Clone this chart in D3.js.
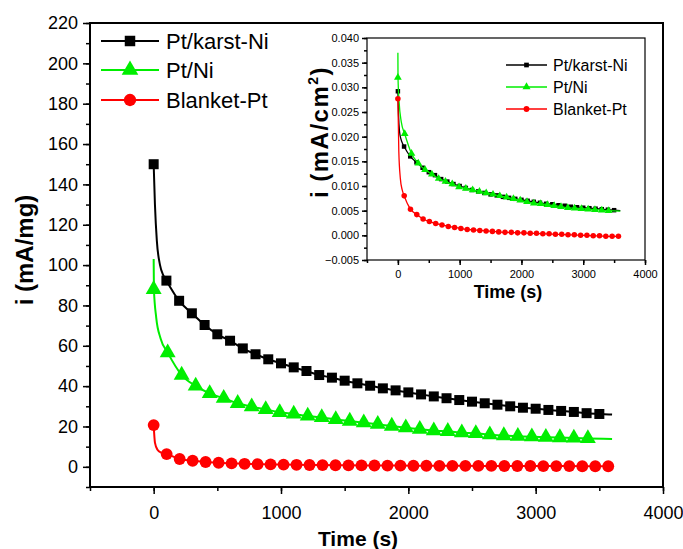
<!DOCTYPE html>
<html>
<head>
<meta charset="utf-8">
<script src="https://cdn.jsdelivr.net/npm/d3@7"></script>
<style>
body { margin: 0; background: #fff; }
svg { font-family: "Liberation Sans", Arial, sans-serif; }
.axis path { display: none; }
.axis line { stroke: #000; stroke-width: 1.5; }
</style>
</head>
<body>
<div id="chart-area"></div>
<script>
// sample times (s)
var blackTimes = [0,100,200,300,400,500,600,700,800,900,1000,1100,1200,1300,1400,1500,1600,1700,1800,1900,2000,2100,2200,2300,2400,2500,2600,2700,2800,2900,3000,3100,3200,3300,3400,3500];
var greenTimes = [0,110,220,330,440,550,660,770,880,990,1100,1210,1320,1430,1540,1650,1760,1870,1980,2090,2200,2310,2420,2530,2640,2750,2860,2970,3080,3190,3300,3410];
var redTimes = [0,102,204,306,408,510,612,714,816,918,1020,1122,1224,1326,1428,1530,1632,1734,1836,1938,2040,2142,2244,2346,2448,2550,2652,2754,2856,2958,3060,3162,3264,3366,3468,3570];

// main plot, i (mA/mg)
var blackMain = [150,92.3,82.3,76.1,70.3,65.7,62.5,58.7,55.8,53.3,51.3,49.3,47.5,45.5,44.2,42.7,41.4,40.2,38.9,37.9,36.9,35.9,34.9,34.0,33.1,32.3,31.5,30.8,30.0,29.3,28.8,28.2,27.7,27.2,26.6,26.2];
var greenMain = [88,56.6,45.5,40.1,36.4,34.0,31.5,29.8,28.5,27.0,26.2,25.2,24.5,23.5,22.7,21.9,21.1,20.2,19.4,18.7,17.9,17.6,16.9,16.6,15.9,15.5,15.2,14.9,14.7,14.5,14.3,14.1];
var redMain = [20.7,6.3,3.9,3.0,2.4,2.0,1.7,1.5,1.3,1.2,1.1,1.0,0.9,0.85,0.8,0.75,0.7,0.65,0.6,0.6,0.55,0.55,0.5,0.5,0.5,0.45,0.45,0.4,0.4,0.4,0.35,0.35,0.35,0.3,0.3,0.3];
// extra line readings near t=0 and at the end of the run
var blackMainHead = [[0,150],[10,130],[25,112],[50,100],[75,95]];
var greenMainHead = [[0,103],[2,88],[20,74],[55,63.5]];
var redMainHead = [[0,20.7],[10,12],[30,8.5],[60,7]];
var mainEnd = [[3600,25.9],[3600,13.8],[3600,0.3]];

// inset, i (mA/cm2)
var blackInset = [0.0292,0.0180,0.0160,0.0148,0.0137,0.0128,0.0122,0.0114,0.0109,0.0104,0.0100,0.0096,0.0092,0.0089,0.0086,0.0083,0.0081,0.0078,0.0076,0.0074,0.0072,0.0070,0.0068,0.0066,0.0064,0.0063,0.0061,0.0060,0.0058,0.0057,0.0056,0.0055,0.0054,0.0053,0.0052,0.0051];
var greenInset = [0.0320,0.0206,0.0166,0.0146,0.0133,0.0124,0.0115,0.0109,0.0104,0.0098,0.0095,0.0092,0.0089,0.0086,0.0083,0.0080,0.0077,0.0074,0.0071,0.0068,0.0065,0.0064,0.0062,0.0060,0.0058,0.0056,0.0055,0.0054,0.0053,0.0052,0.0051,0.0050];
var redInset = [0.0277,0.0080,0.0053,0.0042,0.0033,0.0028,0.0024,0.0021,0.0018,0.0016,0.0014,0.0012,0.0011,0.0010,0.0009,0.0008,0.0007,0.0006,0.0006,0.0005,0.0005,0.0004,0.0004,0.0003,0.0003,0.0002,0.0002,0.0001,0.0001,0.0000,0.0000,-0.0001,-0.0001,-0.0002,-0.0002,-0.0002];
var blackInsetHead = [[0,0.0292],[10,0.0245],[25,0.0212],[50,0.0195],[75,0.0186]];
var greenInsetHead = [[0,0.037],[2,0.032],[20,0.027],[55,0.023]];
var redInsetHead = [[0,0.0277],[15,0.017],[40,0.0115],[70,0.0092]];
var insetEnd = [[3600,0.0050],[3600,0.0049],[3600,-0.0002]];

var seriesNames = ["Pt/karst-Ni", "Pt/Ni", "Blanket-Pt"];
var colors = ["#000000", "#00ee00", "#ff0000"];
var shapes = [d3.symbolSquare, d3.symbolTriangle, d3.symbolCircle];

var mainYTicks = [0,20,40,60,80,100,120,140,160,180,200,220];
var insetYTicks = [-0.005,0,0.005,0.010,0.015,0.020,0.025,0.030,0.035,0.040];
var xTicks = [0,1000,2000,3000,4000];

var svg = d3.select("#chart-area")
    .append("svg")
        .attr("width", 683)
        .attr("height", 549);

function pts(times, vals) {
    return times.map(function(t, i) { return [t, vals[i]]; });
}

function drawPanel(opt) {
    var x = d3.scaleLinear().domain([-500, 4000]).range([opt.left, opt.right]);
    var y = d3.scaleLinear().domain(opt.yDomain).range([opt.bottom, opt.top]);

    // minor ticks
    svg.append("g").attr("class", "axis")
        .attr("transform", "translate(0," + opt.bottom + ")")
        .call(d3.axisBottom(x).tickValues(d3.range(-500, 4001, 500)).tickSize(opt.minor).tickFormat(""));
    svg.append("g").attr("class", "axis")
        .attr("transform", "translate(" + opt.left + ",0)")
        .call(d3.axisLeft(y).tickValues(opt.yMinor).tickSize(opt.minor).tickFormat(""));

    var bx = svg.append("g").attr("class", "axis")
        .attr("transform", "translate(0," + opt.bottom + ")")
        .call(d3.axisBottom(x).tickValues(xTicks).tickSize(opt.major).tickPadding(opt.xPad).tickFormat(d3.format("d")));
    bx.selectAll("text").attr("font-size", opt.tickFont).attr("fill", "#000")
        .style("font-family", "Liberation Sans, Arial, sans-serif");

    var ly = svg.append("g").attr("class", "axis")
        .attr("transform", "translate(" + opt.left + ",0)")
        .call(d3.axisLeft(y).tickValues(opt.yTicks).tickSize(opt.major).tickPadding(opt.yPad).tickFormat(opt.yFormat));
    ly.selectAll("text").attr("font-size", opt.tickFont).attr("fill", "#000")
        .style("font-family", "Liberation Sans, Arial, sans-serif");

    svg.append("rect")
        .attr("x", opt.left).attr("y", opt.top)
        .attr("width", opt.right - opt.left).attr("height", opt.bottom - opt.top)
        .attr("fill", "none").attr("stroke", "#000").attr("stroke-width", opt.frame);

    var line = d3.line()
        .x(function(d) { return x(d[0]); })
        .y(function(d) { return y(d[1]); })
        .curve(d3.curveMonotoneX);

    opt.series.forEach(function(s, k) {
        var markers = pts(s.times, s.vals);
        var lineData = s.head.concat(markers.slice(1)).concat([s.end]);
        svg.append("path")
            .attr("d", line(lineData))
            .attr("fill", "none")
            .attr("stroke", colors[k])
            .attr("stroke-width", opt.lineW);
        svg.append("g").selectAll("path")
            .data(markers)
            .enter()
            .append("path")
                .attr("d", d3.symbol().type(shapes[k]).size(opt.symSize[k]))
                .attr("transform", function(d) { return "translate(" + x(d[0]) + "," + y(d[1]) + ")"; })
                .attr("fill", colors[k]);
    });
}

// main plot
drawPanel({
    left: 90, right: 663, top: 23, bottom: 487,
    yDomain: [-10, 220], yTicks: mainYTicks, yMinor: d3.range(-10, 221, 10),
    yFormat: d3.format("d"), major: 7, minor: 4, frame: 2,
    tickFont: "18px", xPad: 12, yPad: 5, lineW: 2,
    symSize: [100, 110, 110],
    series: [
        {times: blackTimes, vals: blackMain, head: blackMainHead, end: mainEnd[0]},
        {times: greenTimes, vals: greenMain, head: greenMainHead, end: mainEnd[1]},
        {times: redTimes, vals: redMain, head: redMainHead, end: mainEnd[2]}
    ]
});

svg.append("text")
    .attr("x", 358).attr("y", 546)
    .attr("text-anchor", "middle")
    .attr("font-size", "21px").attr("font-weight", "bold")
    .text("Time (s)");

svg.append("text")
    .attr("transform", "translate(33,250) rotate(-90)")
    .attr("text-anchor", "middle")
    .attr("font-size", "24px").attr("font-weight", "bold")
    .text("i (mA/mg)");

// inset
svg.append("rect")
    .attr("x", 300).attr("y", 28).attr("width", 355).attr("height", 280)
    .attr("fill", "#fff");

drawPanel({
    left: 367, right: 645, top: 38, bottom: 260,
    yDomain: [-0.005, 0.040], yTicks: insetYTicks, yMinor: d3.range(-0.005, 0.0401, 0.0025),
    yFormat: d3.format(".3f"), major: 5, minor: 3, frame: 1.2,
    tickFont: "11px", xPad: 5, yPad: 3, lineW: 1.3,
    symSize: [20, 26, 24],
    series: [
        {times: blackTimes, vals: blackInset, head: blackInsetHead, end: insetEnd[0]},
        {times: greenTimes, vals: greenInset, head: greenInsetHead, end: insetEnd[1]},
        {times: redTimes, vals: redInset, head: redInsetHead, end: insetEnd[2]}
    ]
});

svg.append("text")
    .attr("x", 508).attr("y", 298)
    .attr("text-anchor", "middle")
    .attr("font-size", "18px").attr("font-weight", "bold")
    .text("Time (s)");

var iy = svg.append("text")
    .attr("transform", "translate(328,132) rotate(-90)")
    .attr("text-anchor", "middle")
    .attr("font-size", "24px").attr("font-weight", "bold")
    .attr("letter-spacing", "1.5px");
iy.append("tspan").text("i (mA/cm");
iy.append("tspan").attr("font-size", "14px").attr("dy", "-10").text("2");
iy.append("tspan").attr("dy", "10").text(")");

// legends
function legend(x0, x1, tx, ys, font, lineW, sizes) {
    seriesNames.forEach(function(name, k) {
        var g = svg.append("g");
        g.append("line")
            .attr("x1", x0).attr("x2", x1).attr("y1", ys[k]).attr("y2", ys[k])
            .attr("stroke", colors[k]).attr("stroke-width", lineW);
        g.append("path")
            .attr("d", d3.symbol().type(shapes[k]).size(sizes[k]))
            .attr("transform", "translate(" + ((x0 + x1) / 2) + "," + ys[k] + ")")
            .attr("fill", colors[k]);
        g.append("text")
            .attr("x", tx).attr("y", ys[k])
            .attr("dy", "0.35em")
            .attr("font-size", font)
            .text(name);
    });
}
legend(101, 159, 166, [41, 70, 100], "22px", 2, [110, 120, 120]);
legend(506, 547, 553, [65, 87, 109], "16px", 1.3, [22, 28, 26]);
</script>
</body>
</html>
